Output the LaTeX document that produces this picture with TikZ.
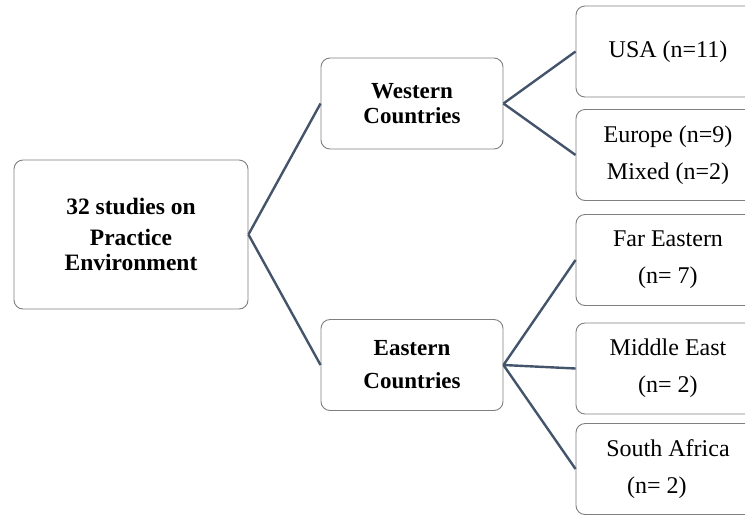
\documentclass[tikz,border=0pt]{standalone}
\usepackage{fontspec}
\setmainfont{Liberation Serif}
\usepackage{xcolor}
\usepackage{tikz}
\usetikzlibrary{positioning}

\definecolor{linkblue}{HTML}{44546A}
\definecolor{boxgray}{HTML}{7F7F7F}

\begin{document}
\begin{tikzpicture}[
        x=1pt, y=-1pt,
        rootbox/.style={rectangle, rounded corners=9pt, draw=boxgray, line width=0.9pt, align=center, minimum width=234pt, minimum height=149pt, font=\fontsize{23.5}{25}\selectfont\bfseries},
        regbox/.style={rectangle, rounded corners=9pt, draw=boxgray, line width=0.9pt, align=center, minimum width=182pt, minimum height=91pt, font=\fontsize{23}{25}\selectfont\bfseries},
        leafbox/.style={rectangle, rounded corners=9pt, draw=boxgray, line width=0.9pt, align=center, minimum width=184pt, minimum height=91pt, font=\fontsize{24}{37}\selectfont},
        link/.style={draw=linkblue, line width=2.4pt}
    ]
        \path[use as bounding box, clip] (0,0) rectangle (745,515);

        \node[rootbox] (root) at (131,234.5) {32 studies on\\[6pt] Practice\\ Environment};
        \node[regbox] (west) at (412,103.5) {Western\\ Countries};
        \node[regbox] (east) at (412,365) {Eastern\\[8pt] Countries};

        \node[leafbox] (usa) at (668,51.5) {USA (n=11)};
        \node[leafbox] (europe) at (668,155) {Europe (n=9)\\ Mixed (n=2)};
        \node[leafbox] (fareast) at (668,260) {Far Eastern\\ (n= 7)};
        \node[leafbox] (mideast) at (668,368.5) {Middle East\\ (n= 2)};
        \node[leafbox] (safrica) at (668,469) {South Africa\\ (n= 2)\hspace*{22pt}};

        \draw[link] (root.east) -- (west.west);
        \draw[link] (root.east) -- (east.west);
        \draw[link] (west.east) -- (usa.west);
        \draw[link] (west.east) -- (europe.west);
        \draw[link] (east.east) -- (fareast.west);
        \draw[link] (east.east) -- (mideast.west);
        \draw[link] (east.east) -- (safrica.west);
    \end{tikzpicture}
\end{document}
